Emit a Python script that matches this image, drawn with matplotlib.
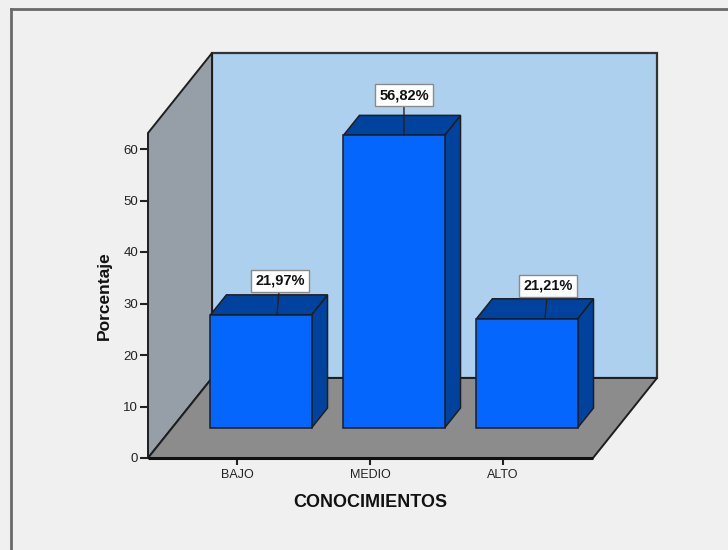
import matplotlib
matplotlib.use("Agg")
import matplotlib.pyplot as plt
from matplotlib.patches import Polygon
from matplotlib.lines import Line2D

plt.rcParams['font.family'] = ['Liberation Sans', 'DejaVu Sans']

# Data
categories = ["BAJO", "MEDIO", "ALTO"]
percentages = [21.97, 56.82, 21.21]
value_labels = ["21,97%", "56,82%", "21,21%"]
y_ticks = [0, 10, 20, 30, 40, 50, 60]
x_title = "CONOCIMIENTOS"
y_title = "Porcentaje"

# Colours
BG = "#F0F0F0"
BACK_WALL = "#ADD0EE"
LEFT_WALL = "#969EA7"
FLOOR = "#8C8C8C"
BAR_FRONT = "#0566FD"
BAR_DARK = "#00439E"
EDGE = "#1E1E1E"

W, H = 728, 550
fig = plt.figure(figsize=(W / 100, H / 100), dpi=100, facecolor=BG)

# Front plane of the oblique box (pixel geometry of the plot area)
left_px, right_px, base_px, top_px = 148, 593, 458, 133
XMIN, XMAX = -0.669, 2.677
px_per_x = (right_px - left_px) / (XMAX - XMIN)
px_per_y = 5.15
YMAX = (base_px - top_px) / px_per_y

ax = fig.add_axes([left_px / W, (H - base_px) / H,
                   (right_px - left_px) / W, (base_px - top_px) / H])
ax.set_xlim(XMIN, XMAX)
ax.set_ylim(0, YMAX)
ax.set_facecolor("none")
for s in ax.spines.values():
    s.set_visible(False)

# depth vector (full depth) in data units
DX = 64 / px_per_x
DY = 80 / px_per_y


def proj(x, y, d):
    return (x + d * DX, y + d * DY)


def poly(pts, fc, lw=1.2, ec=EDGE, z=1):
    p = Polygon(pts, closed=True, facecolor=fc, edgecolor=ec, lw=lw,
                clip_on=False, zorder=z, joinstyle="miter")
    ax.add_patch(p)


# Walls and floor
poly([proj(XMIN, 0, 1), proj(XMAX, 0, 1), proj(XMAX, YMAX, 1), proj(XMIN, YMAX, 1)],
     BACK_WALL, lw=1.6, ec="#333333", z=1)
poly([proj(XMIN, 0, 0), proj(XMIN, YMAX, 0), proj(XMIN, YMAX, 1), proj(XMIN, 0, 1)],
     LEFT_WALL, lw=1.4, z=1)
poly([proj(XMIN, 0, 0), proj(XMAX, 0, 0), proj(XMAX, 0, 1), proj(XMIN, 0, 1)],
     FLOOR, lw=1.4, z=2)
ax.plot([XMIN, XMAX], [0, 0], color="#111111", lw=2.2, clip_on=False, zorder=3,
        solid_capstyle="butt")

# Bars
bar_w = 0.76
d0, d1 = 0.375, 0.625
for i, v in enumerate(percentages):
    x0, x1 = i - bar_w / 2, i + bar_w / 2
    front = [proj(x0, 0, d0), proj(x1, 0, d0), proj(x1, v, d0), proj(x0, v, d0)]
    top = [proj(x0, v, d0), proj(x1, v, d0), proj(x1, v, d1), proj(x0, v, d1)]
    side = [proj(x1, 0, d0), proj(x1, 0, d1), proj(x1, v, d1), proj(x1, v, d0)]
    poly(side, BAR_DARK, lw=1.1, z=4)
    poly(top, BAR_DARK, lw=1.1, z=4)
    poly(front, BAR_FRONT, lw=1.1, z=5)

# Value labels with leader lines
label_offsets = [(3, -34), (0, -40), (3, -33)]
anchor_dx = [16, 10, 18]
for i, v in enumerate(percentages):
    ax_x, ax_y = proj(i + anchor_dx[i] / px_per_x, v, d0)
    ax.annotate(value_labels[i], xy=(ax_x, ax_y),
                xytext=(label_offsets[i][0], -label_offsets[i][1]),
                textcoords="offset pixels", ha="center", va="center",
                fontsize=10.5, fontweight="bold", color="#111111",
                bbox=dict(boxstyle="square,pad=0.28", fc="white", ec="#8a8a8a", lw=1),
                arrowprops=dict(arrowstyle="-", color="#222222", lw=1,
                                shrinkA=0, shrinkB=0),
                annotation_clip=False, zorder=7)

# Y axis ticks
ax.set_yticks(y_ticks)
ax.set_yticklabels([str(t) for t in y_ticks], fontsize=9.5, color="#222222")
ax.tick_params(axis="y", length=6, width=1.5, color="#222222", pad=1)
# X axis ticks
ax.set_xticks(range(len(categories)))
ax.set_xticklabels(categories, fontsize=9, color="#222222")
ax.tick_params(axis="x", length=5, width=1.5, color="#222222", pad=3)

ax.set_xlabel(x_title, fontsize=13, fontweight="bold", color="#111111", labelpad=9)
ax.set_ylabel(y_title, fontsize=12.5, fontweight="bold", color="#111111", labelpad=8)

# Outer chart frame
fig.add_artist(Line2D([11 / W, 11 / W], [0, 1 - 9 / H], transform=fig.transFigure,
                      color="#6a6a6a", lw=2))
fig.add_artist(Line2D([11 / W, 1], [1 - 9 / H, 1 - 9 / H], transform=fig.transFigure,
                      color="#6a6a6a", lw=2))

fig.savefig("out.png", dpi=100, facecolor=BG)
